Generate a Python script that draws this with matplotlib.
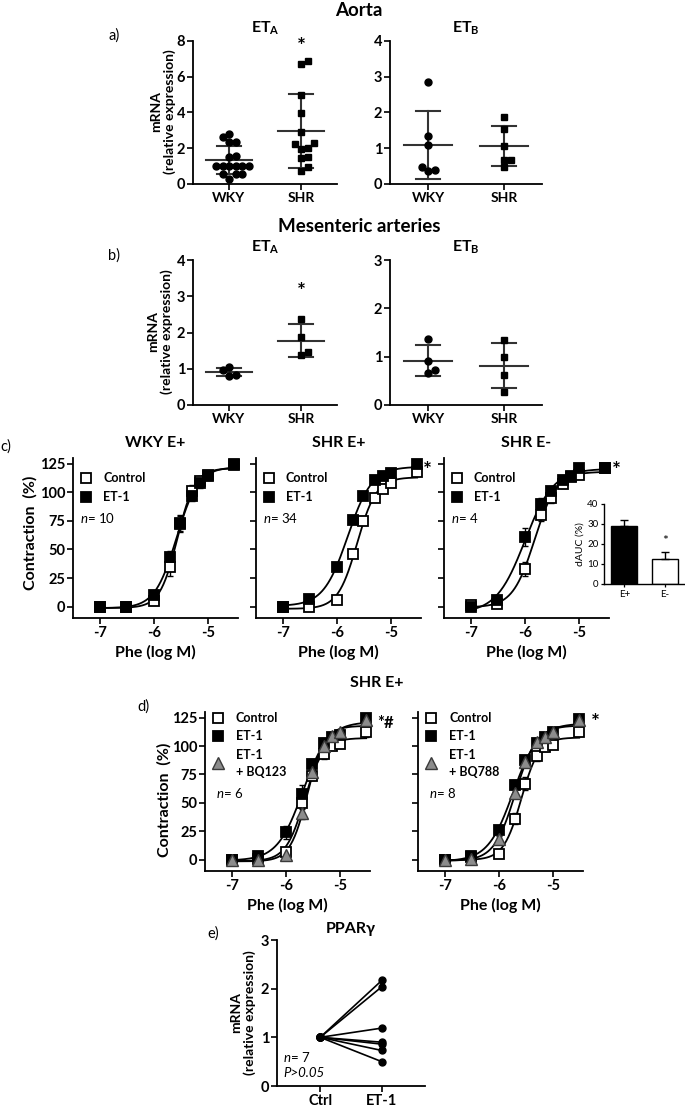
import numpy as np
import matplotlib
matplotlib.use("Agg")
import matplotlib.pyplot as plt
from matplotlib.lines import Line2D

W, H = 685, 1107

# ---- a) aorta mRNA ----
aorta_eta_wky = [2.78, 2.61, 2.33, 2.33, 1.51, 1.56, 1.02, 1.02, 1.02, 1.02, 1.02, 1.02, 0.54, 0.54, 0.54, 0.30]
aorta_eta_shr = [6.74, 6.87, 4.97, 3.95, 2.92, 2.23, 2.27, 1.96, 2.03, 1.53, 1.43, 0.74, 0.97]
aorta_etb_wky = [2.85, 1.35, 1.08, 0.47, 0.37, 0.40]
aorta_etb_shr = [1.88, 1.55, 1.06, 0.67, 0.67, 0.48]

# ---- b) mesenteric mRNA ----
mes_eta_wky = [0.97, 1.05, 0.82, 0.80]
mes_eta_shr = [2.38, 1.88, 1.38, 1.45]
mes_etb_wky = [1.37, 0.92, 0.66, 0.72]
mes_etb_shr = [1.35, 1.00, 0.63, 0.27]
groups = ["WKY", "SHR"]

# ---- c) / d) concentration-response ----
log_phe = [-7, -6.52, -6, -5.7, -5.52, -5.3, -5.15, -5, -4.52]

wky_ctrl = [0, 0, 5, 35, 72, 101, 110, 115, 125]
wky_ctrl_sem = [1, 1, 2, 8, 7, 5, 4, 3, 3]
wky_et1 = [0, 0, 10, 43, 73, 97, 108, 114, 124]
wky_et1_sem = [1, 1, 2, 6, 7, 5, 4, 3, 3]

shr_ctrl = [0, 0, 6, 46, 75, 95, 103, 108, 118]
shr_ctrl_sem = [0.5, 0.5, 1, 2, 2, 2, 2, 2, 2]
shr_et1 = [0, 7, 35, 76, 97, 111, 114, 117, 125]
shr_et1_sem = [0.5, 1, 2, 2, 2, 2, 2, 2, 2]

shrm_ctrl = [1, 2, 33, 80, 95, 107, 113, 115, 121]
shrm_ctrl_sem = [1, 1, 6, 5, 4, 3, 2, 2, 2]
shrm_et1 = [0, 6, 61, 90, 101, 111, 114, 121, 121]
shrm_et1_sem = [1, 2, 8, 5, 4, 3, 2, 2, 2]

dauc_labels = ["E+", "E-"]
dauc = [29, 12.5]
dauc_sem = [3, 3.5]

bq123_ctrl = [0, 1, 7, 50, 74, 93, 100, 102, 112]
bq123_ctrl_sem = [1, 1, 3, 5, 4, 4, 3, 4, 4]
bq123_et1 = [0, 3, 24, 58, 84, 103, 108, 110, 125]
bq123_et1_sem = [1, 1, 6, 8, 5, 4, 3, 3, 3]
bq123_ant = [0, 0, 4, 41, 77, 100, 109, 112, 123]
bq123_ant_sem = [1, 1, 2, 5, 4, 3, 3, 3, 3]

bq788_ctrl = [0, 2, 5, 36, 67, 91, 99, 101, 112]
bq788_ctrl_sem = [1, 1, 2, 5, 6, 4, 3, 3, 3]
bq788_et1 = [0, 3, 26, 66, 88, 103, 108, 112, 124]
bq788_et1_sem = [1, 1, 3, 4, 3, 3, 2, 2, 2]
bq788_ant = [0, 1, 18, 59, 86, 104, 108, 112, 123]
bq788_ant_sem = [1, 1, 3, 4, 3, 3, 2, 2, 2]

# ---- e) PPARgamma ----
ppar_labels = ["Ctrl", "ET-1"]
ppar_ctrl = [1, 1, 1, 1, 1, 1, 1]
ppar_et1 = [2.17, 2.04, 1.19, 0.90, 0.86, 0.73, 0.50]

LINE = "#333333"
GREY = "#8c8c8c"

plt.rcParams.update({
    "font.family": ["Lato", "DejaVu Sans"],
    "font.weight": "bold",
    "axes.labelweight": "bold",
    "axes.titleweight": "bold",
    "axes.unicode_minus": False,
    "mathtext.fontset": "custom",
    "mathtext.rm": "Lato:bold",
    "mathtext.it": "Lato:style=italic:weight=normal",
    "axes.linewidth": 1.3,
    "xtick.major.width": 1.2,
    "ytick.major.width": 1.2,
    "xtick.major.size": 4,
    "ytick.major.size": 4,
    "xtick.major.pad": 2,
    "ytick.major.pad": 1.5,
})

fig = plt.figure(figsize=(W / 100, H / 100), dpi=100)


def box(l, t, r, b):
    return fig.add_axes([l / W, 1 - b / H, (r - l) / W, (b - t) / H])


def ftext(x, y, s, **kw):
    kw.setdefault("ha", "center")
    kw.setdefault("va", "center")
    fig.text(x / W, 1 - y / H, s, **kw)


def fmark(x, y, **kw):
    fig.add_artist(Line2D([x / W], [1 - y / H], transform=fig.transFigure, ls="none", **kw))


def style(ax, size=10.5, ylabels=True):
    for s in ("top", "right"):
        ax.spines[s].set_visible(False)
    ax.tick_params(direction="out", labelsize=size)
    if not ylabels:
        ax.tick_params(axis="y", labelleft=False)


def swarm(vals, px_x, px_y, diam=6.5):
    vals = np.asarray(vals, float)
    off = np.zeros(len(vals))
    placed = []
    for k in np.argsort(vals):
        y = vals[k] * px_y
        for step in [0, 1, -1, 2, -2, 3, -3, 4, -4]:
            x = step * diam
            if all((x - a) ** 2 + (y - b) ** 2 >= (0.95 * diam) ** 2 for a, b in placed):
                break
        placed.append((x, y))
        off[k] = x / px_x
    return off


def dot_panel(ax, data, markers, ymax, yticks, title, star=None):
    ax.set_xlim(-0.5, 1.5)
    ax.set_ylim(0, ymax)
    bb = ax.get_position()
    px_x = bb.width * W / 2.0
    px_y = bb.height * H / ymax
    for i, (vals, m) in enumerate(zip(data, markers)):
        vals = np.asarray(vals, float)
        xs = i + swarm(vals, px_x, px_y)
        ax.plot(xs, vals, ls="none", marker=m, ms=5, color="k", zorder=3, clip_on=False)
        mu, sd = vals.mean(), vals.std(ddof=1)
        ax.plot([i - 0.32, i + 0.32], [mu, mu], color=LINE, lw=1.5, zorder=2)
        ax.plot([i, i], [mu - sd, mu + sd], color=LINE, lw=1.5, zorder=2)
        for v in (mu - sd, mu + sd):
            ax.plot([i - 0.16, i + 0.16], [v, v], color=LINE, lw=1.5, zorder=2)
    ax.set_xticks([0, 1])
    ax.set_xticklabels(groups)
    ax.set_yticks(yticks)
    style(ax)
    ax.tick_params(axis="x", labelsize=10)
    ax.set_title(title, fontsize=11.5, pad=6)
    if star is not None:
        ax.text(1, star, "*", ha="center", va="bottom", fontsize=15)


def hill_fit(x, y):
    x = np.asarray(x, float)
    y = np.asarray(y, float)
    ec, hs = np.meshgrid(np.arange(-7.2, -4.6, 0.005), np.arange(0.5, 4.0, 0.02))
    ec = ec.ravel()[:, None]
    hs = hs.ravel()[:, None]
    S = 1 / (1 + 10 ** ((ec - x) * hs))
    sm = S.mean(1, keepdims=True)
    ym = y.mean()
    span = ((S - sm) * (y - ym)).sum(1) / ((S - sm) ** 2).sum(1)
    base = ym - span * sm[:, 0]
    sse = ((base[:, None] + span[:, None] * S - y) ** 2).sum(1)
    k = np.argmin(sse)
    return base[k], span[k], ec[k, 0], hs[k, 0]


CTRL = dict(marker="s", mfc="white", mec="k", ms=7, mew=1.3)
ET1 = dict(marker="s", mfc="k", mec="k", ms=7, mew=1.3)
ANT = dict(marker="^", mfc=GREY, mec="#3a3a3a", ms=8, mew=1.0)


def dose_panel(ax, series, ylabels=True):
    x = np.asarray(log_phe)
    xs = np.linspace(x.min(), x.max(), 200)
    for y, sem, mk in series:
        b, s, ec, h = hill_fit(x, y)
        ax.plot(xs, b + s / (1 + 10 ** ((ec - xs) * h)), color="k", lw=1.3, zorder=2)
    for y, sem, mk in series:
        ax.errorbar(x, y, yerr=sem, fmt="none", ecolor="k", elinewidth=1.0, capsize=2.5, capthick=1.0, zorder=3)
        ax.plot(x, y, ls="none", zorder=4, clip_on=False, **mk)
    ax.set_xlim(-7.5, -4.45)
    ax.set_ylim(-10, 130)
    ax.set_xticks([-7, -6, -5])
    ax.set_yticks([0, 25, 50, 75, 100, 125])
    style(ax, ylabels=ylabels)


# ---------- a) ----------
ftext(359, 10, "Aorta", fontsize=13.5)
ftext(114, 36, "a)", fontsize=10.5, fontweight="normal")
ax = box(193, 41, 337, 184)
dot_panel(ax, [aorta_eta_wky, aorta_eta_shr], ["o", "s"], 8, [0, 2, 4, 6, 8], "ET$_\\mathregular{A}$", star=7.1)
ax = box(390, 41, 542, 184)
dot_panel(ax, [aorta_etb_wky, aorta_etb_shr], ["o", "s"], 4, [0, 1, 2, 3, 4], "ET$_\\mathregular{B}$")
ftext(163, 112, "mRNA\n(relative expression)", rotation=90, fontsize=10, linespacing=1.1)

# ---------- b) ----------
ftext(359, 227, "Mesenteric arteries", fontsize=13.5)
ftext(114, 256, "b)", fontsize=10.5, fontweight="normal")
ax = box(193, 260, 337, 405)
dot_panel(ax, [mes_eta_wky, mes_eta_shr], ["o", "s"], 4, [0, 1, 2, 3, 4], "ET$_\\mathregular{A}$", star=2.85)
ax = box(390, 260, 542, 405)
dot_panel(ax, [mes_etb_wky, mes_etb_shr], ["o", "s"], 3, [0, 1, 2, 3], "ET$_\\mathregular{B}$")
ftext(160, 332, "mRNA\n(relative expression)", rotation=90, fontsize=10, linespacing=1.1)

# ---------- c) ----------
ftext(6, 447, "c)", fontsize=10.5, fontweight="normal")
c_axes = []
for (l, r), title, ser, n, ylab in [
    ((73, 238), "WKY E+", [(wky_ctrl, wky_ctrl_sem, CTRL), (wky_et1, wky_et1_sem, ET1)], "10", True),
    ((256, 421), "SHR E+", [(shr_ctrl, shr_ctrl_sem, CTRL), (shr_et1, shr_et1_sem, ET1)], "34", False),
    ((444, 609), "SHR E-", [(shrm_ctrl, shrm_ctrl_sem, CTRL), (shrm_et1, shrm_et1_sem, ET1)], "4", False),
]:
    ax = box(l, 458, r, 618)
    dose_panel(ax, ser, ylabels=ylab)
    ax.set_title(title, fontsize=11.5, pad=8)
    ax.set_xlabel("Phe (log M)", fontsize=11.5, labelpad=3)
    mx = l + 13
    fmark(mx, 478, **CTRL)
    fmark(mx, 497, **ET1)
    ftext(mx + 17, 478, "Control", ha="left", fontsize=9)
    ftext(mx + 17, 497, "ET-1", ha="left", fontsize=9)
    ftext(mx - 6, 518, "$n$= " + n, ha="left", fontsize=9.5, fontweight="normal")
    c_axes.append(ax)
ftext(30, 533, "Contraction  (%)", rotation=90, fontsize=11.5)
c_axes[1].text(-4.33, 119, "*", ha="center", va="center", fontsize=15, clip_on=False)
c_axes[2].text(-4.31, 119, "*", ha="center", va="center", fontsize=15, clip_on=False)

# inset dAUC
ax = box(604, 504, 685, 584)
ax.bar([0, 1], dauc, width=0.65, color=["k", "white"], edgecolor="k", linewidth=1.0, zorder=2)
ax.errorbar([0, 1], dauc, yerr=[[0, 0], dauc_sem], fmt="none", ecolor="k", elinewidth=1.0, capsize=3, capthick=1.0)
ax.set_xlim(-0.5, 1.5)
ax.set_ylim(0, 40)
ax.set_yticks([0, 10, 20, 30, 40])
ax.set_xticks([0, 1])
ax.set_xticklabels(dauc_labels, fontweight="normal")
for s in ("top", "right"):
    ax.spines[s].set_visible(False)
for s in ("left", "bottom"):
    ax.spines[s].set_linewidth(1.0)
ax.tick_params(direction="out", labelsize=7, length=2.5, width=0.9, pad=1.5)
for t in ax.get_yticklabels():
    t.set_fontweight("normal")
ax.set_ylabel("dAUC (%)", fontsize=7.5, fontweight="normal", labelpad=2)
ax.text(1, 18.5, "*", ha="center", va="bottom", fontsize=10, fontweight="normal")

# ---------- d) ----------
ftext(377, 683, "SHR E+", fontsize=11.5)
ftext(143, 707, "d)", fontsize=10.5, fontweight="normal")
d_axes = []
for (l, r), ser, ant, n, ylab in [
    ((205, 370), [(bq123_ctrl, bq123_ctrl_sem, CTRL), (bq123_et1, bq123_et1_sem, ET1), (bq123_ant, bq123_ant_sem, ANT)], "+ BQ123", "6", True),
    ((418, 583), [(bq788_ctrl, bq788_ctrl_sem, CTRL), (bq788_et1, bq788_et1_sem, ET1), (bq788_ant, bq788_ant_sem, ANT)], "+ BQ788", "8", False),
]:
    ax = box(l, 712, r, 871)
    dose_panel(ax, ser, ylabels=ylab)
    ax.set_xlabel("Phe (log M)", fontsize=11.5, labelpad=3)
    mx = l + 13
    fmark(mx, 718, **CTRL)
    fmark(mx, 736, **ET1)
    fmark(mx, 763, **ANT)
    ftext(mx + 18, 718, "Control", ha="left", fontsize=9)
    ftext(mx + 18, 736, "ET-1", ha="left", fontsize=9)
    ftext(mx + 18, 755, "ET-1", ha="left", fontsize=9)
    ftext(mx + 18, 772, ant, ha="left", fontsize=9)
    ftext(mx - 2, 793, "$n$= " + n, ha="left", fontsize=9.5, fontweight="normal")
    d_axes.append(ax)
ftext(164, 800, "Contraction  (%)", rotation=90, fontsize=11.5)
d_axes[0].text(-4.17, 120, "*#", ha="center", va="center", fontsize=12, clip_on=False)
d_axes[1].text(-4.22, 120, "*", ha="center", va="center", fontsize=15, clip_on=False)

# ---------- e) ----------
ftext(213, 934, "e)", fontsize=10.5, fontweight="normal")
ax = box(277, 940, 425, 1086)
for c, e in zip(ppar_ctrl, ppar_et1):
    ax.plot([0, 1], [c, e], color="k", lw=1.2, marker="o", ms=5, clip_on=False)
ax.set_xlim(-0.7, 1.7)
ax.set_ylim(0, 3)
ax.set_yticks([0, 1, 2, 3])
ax.set_xticks([0, 1])
ax.set_xticklabels(ppar_labels)
style(ax)
ax.set_title("PPAR\u03b3", fontsize=11.5, pad=5)
ax.text(-0.6, 0.6, "$n$= 7", fontsize=9.5, fontweight="normal", va="center")
ax.text(-0.6, 0.27, "P>0.05", fontsize=9.5, fontweight="normal", fontstyle="italic", va="center")
ftext(243, 1013, "mRNA\n(relative expression)", rotation=90, fontsize=10, linespacing=1.1)

fig.savefig("out.png", dpi=100, facecolor="white")
